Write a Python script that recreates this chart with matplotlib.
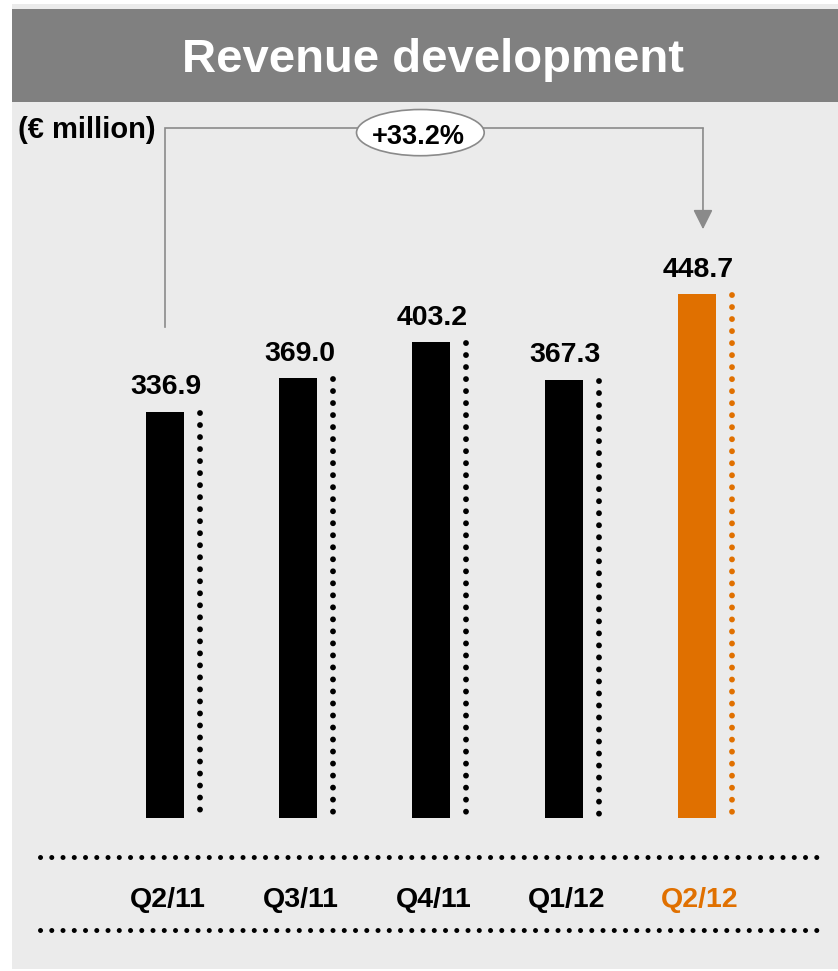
import matplotlib.pyplot as plt
from matplotlib.patches import Rectangle, Ellipse

# Data
quarters = ['Q2/11', 'Q3/11', 'Q4/11', 'Q1/12', 'Q2/12']
revenue = [336.9, 369.0, 403.2, 367.3, 448.7]
growth_label = '+33.2%'
unit_label = '(€ million)'
title = 'Revenue development'

black = '#000000'
orange = '#E07000'
gray = '#8a8a8a'
colors = [black, black, black, black, orange]

plt.rcParams['font.family'] = ['Liberation Sans', 'DejaVu Sans']

fig = plt.figure(figsize=(8.38, 9.71), dpi=100)
fig.patch.set_facecolor('white')

# background panels
fig.patches.append(Rectangle((12 / 838, 2 / 971), 826 / 838, 965 / 971,
                             transform=fig.transFigure, facecolor='#ebebeb',
                             edgecolor='none', zorder=-2))
fig.patches.append(Rectangle((12 / 838, 1 - 102 / 971), 826 / 838, 93 / 971,
                             transform=fig.transFigure, facecolor='#808080',
                             edgecolor='none', zorder=-1))
fig.text(433 / 838, 1 - 72 / 971, title, color='white', fontsize=34,
         fontweight='bold', ha='center', va='baseline')
fig.text(18 / 838, 1 - 138 / 971, unit_label, color='black', fontsize=21,
         fontweight='bold', ha='left', va='baseline')

ax = fig.add_axes([0, 0, 1, 1])
ax.set_facecolor('none')
ax.axis('off')
base = -50
ax.set_xlim(-1.2406, 5.0602)
ax.set_ylim(-195.7, 729.0)

x = list(range(len(quarters)))
ax.bar(x, [v - base for v in revenue], bottom=base, width=0.29,
       color=colors, zorder=3)

for xi, v, c, q in zip(x, revenue, colors, quarters):
    # dotted line next to each bar
    ax.plot([xi + 0.26, xi + 0.26], [v - 1, base], color=c, lw=4.2,
            linestyle=(0, (0.01, 2.05)), dash_capstyle='round', zorder=3)
    ax.annotate(f'{v:.1f}', (xi, v), xytext=(1, 12.5), textcoords='offset points',
                ha='center', va='baseline', fontsize=20.5, fontweight='bold',
                color='black')
    ax.text(xi + 0.02, -128, q, ha='center', va='center', fontsize=20.5,
            fontweight='bold', color=c)

# horizontal dotted separators
for yy in (-87.1, -156.7):
    ax.axhline(yy, xmin=40 / 838, xmax=824 / 838, color='black', lw=3.6,
               linestyle=(0, (0.01, 2.24)), dash_capstyle='round')

# growth bracket
y_start = revenue[0] + 81
y_top = max(revenue) + 158
y_tip = revenue[-1] + 62
x_right = x[-1] + 0.045
ax.plot([x[0], x[0], x_right], [y_start, y_top, y_top], color=gray, lw=1.2,
        solid_joinstyle='miter')
ax.annotate('', xy=(x_right, y_tip), xytext=(x_right, y_top),
            arrowprops=dict(arrowstyle='-|>,head_length=0.6,head_width=0.3',
                            mutation_scale=20, color=gray, lw=1.2,
                            shrinkA=0, shrinkB=0))
ax.add_patch(Ellipse((1.92, y_top - 4), 0.96, 44, facecolor='white',
                     edgecolor=gray, lw=1.2, zorder=4))
ax.text(1.905, y_top - 8, growth_label, ha='center', va='center', fontsize=19.5,
        fontweight='bold', color='black', zorder=5)

fig.savefig('out.png', dpi=100)
